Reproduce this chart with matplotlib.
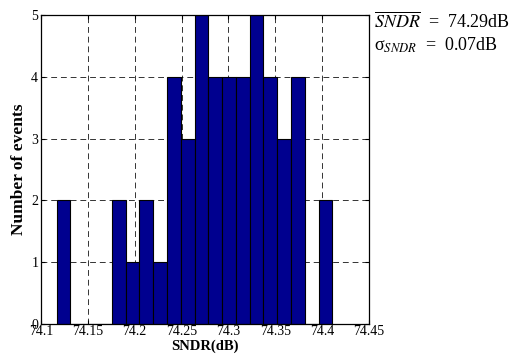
import numpy as np
import matplotlib
matplotlib.use("Agg")
import matplotlib.pyplot as plt

# Histogram of SNDR values (20 bins between min and max)
SNDR_Min = 74.1167
SNDR_Max = 74.411
Counts = [2, 0, 0, 0, 2, 1, 2, 1, 4, 3, 5, 4, 4, 4, 5, 4, 3, 4, 0, 2]
X_Ticks = [74.1, 74.15, 74.2, 74.25, 74.3, 74.35, 74.4, 74.45]
X_Tick_Labels = ["74.1", "74.15", "74.2", "74.25", "74.3", "74.35", "74.4", "74.45"]
Y_Ticks = [0, 1, 2, 3, 4, 5]
Mean_Text = r"$\overline{SNDR}$  =  74.29dB"
Std_Text = r"σ$_{SNDR}$  =  0.07dB"

plt.rcParams["font.family"] = ["Liberation Serif", "DejaVu Serif"]
plt.rcParams["mathtext.fontset"] = "stix"

Edges = np.linspace(SNDR_Min, SNDR_Max, len(Counts) + 1)
Width = Edges[1] - Edges[0]

fig = plt.figure(figsize=(5.30, 3.61), dpi=100)
ax = fig.add_axes([0.0774, 0.1025, 0.6188, 0.8555])
ax.bar(Edges[:-1], Counts, width=Width, align="edge", color="#00008F",
       edgecolor="black", linewidth=0.8, zorder=2)

ax.set_xlim(74.1, 74.45)
ax.set_ylim(0, 5)
ax.set_xticks(X_Ticks)
ax.set_xticklabels(X_Tick_Labels)
ax.set_yticks(Y_Ticks)
ax.tick_params(direction="in", top=True, right=True, labelsize=10, length=3, pad=1)
ax.tick_params(axis="y", pad=2)
ax.grid(True, color="black", linestyle=(0, (6, 4)), linewidth=0.7, alpha=0.8)
ax.set_axisbelow(True)
for s in ax.spines.values():
    s.set_linewidth(0.9)

ax.set_xlabel("SNDR(dB)", fontsize=10.5, fontweight="bold", labelpad=1)
ax.set_ylabel("Number of events", fontsize=12.5, fontweight="bold", labelpad=3)

fig.text(0.705, 0.94, Mean_Text, fontsize=13, va="center", ha="left")
fig.text(0.705, 0.875, Std_Text, fontsize=13, va="center", ha="left")

plt.savefig("out.png", dpi=100)
